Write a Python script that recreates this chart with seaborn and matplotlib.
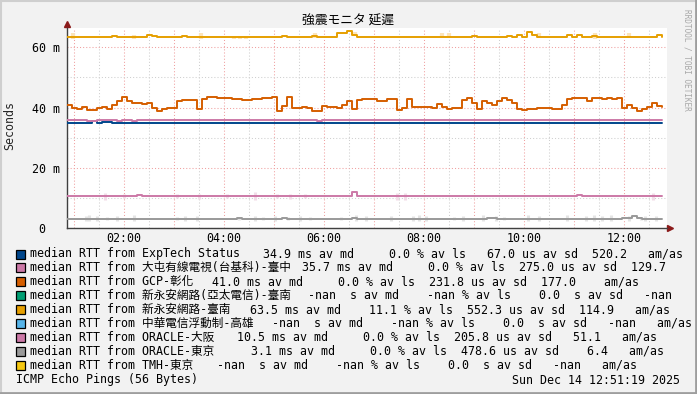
import numpy as np
import pandas as pd
import matplotlib
matplotlib.use("Agg")
import matplotlib.pyplot as plt
from matplotlib.patches import Rectangle
from matplotlib.lines import Line2D
import seaborn as sns

# ---------------- data ----------------
TITLE = "強震モニタ 延遲"
Y_LABEL = "Seconds"
START_H = 0.86          # first sample (hours since midnight)
STEP_H = 0.1            # 6 minute steps
END_H = 12.86
x_tick_pos = [1, 2, 3, 4, 5, 6, 7, 8, 9, 10, 11, 12]
x_tick_labels = ["", "02:00", "", "04:00", "", "06:00", "", "08:00", "", "10:00", "", "12:00"]
y_tick_pos = [0, 20, 40, 60]
y_tick_labels = ["0\u00a0\u00a0", "20 m", "40 m", "60 m"]

exptech = [34.9, 34.9, 34.9, 34.9, 34.9, 35.4, 34.8, 35.2, 35.2, 34.9] + [34.9] * 110

dazhun = ([35.8, 35.8, 35.8, 35.8, 35.5, 35.5, 35.8, 35.8, 35.8, 35.8,
           35.5, 35.8, 35.8, 35.5, 35.8, 35.8, 35.8, 35.8, 35.8, 35.8]
          + [35.8] * 30 + [35.5] + [35.8] * 69)

gcp = [41.0, 39.7, 39.4, 40.1, 39.2, 39.2, 39.7, 40.1, 39.4, 40.9,
       42.3, 43.5, 42.0, 41.5, 41.6, 41.2, 41.4, 39.7, 39.0, 39.6,
       39.7, 39.7, 42.3, 42.6, 42.6, 42.6, 39.4, 42.8, 43.5, 43.5,
       43.1, 43.1, 43.3, 42.8, 42.8, 42.6, 42.6, 42.8, 42.8, 43.0,
       43.0, 43.5, 39.0, 40.6, 43.5, 39.7, 40.0, 40.2, 39.7, 39.0,
       39.0, 40.6, 40.2, 40.2, 39.7, 40.9, 42.0, 39.4, 42.6, 42.8,
       42.9, 42.9, 42.3, 42.3, 42.8, 42.8, 39.2, 39.7, 42.8, 40.1,
       40.1, 40.1, 40.1, 39.7, 41.2, 40.2, 39.4, 39.7, 39.7, 42.6,
       43.1, 41.4, 39.4, 42.0, 41.6, 40.9, 42.3, 43.1, 42.6, 41.6,
       39.4, 39.2, 39.4, 39.4, 39.7, 39.7, 39.7, 39.4, 39.4, 40.9,
       42.8, 43.0, 43.0, 43.1, 42.0, 43.1, 43.1, 42.8, 43.0, 42.8,
       43.0, 39.7, 40.9, 39.7, 39.0, 39.4, 40.2, 41.6, 40.6, 40.1]

tainan = [63.3, 63.3, 63.3, 63.3, 63.3, 63.3, 63.3, 63.3, 63.3, 63.6,
          63.3, 63.3, 63.3, 63.3, 63.3, 63.3, 64.1, 63.8, 63.3, 63.3,
          63.3, 63.3, 63.3, 63.6, 63.3, 63.3, 63.3, 63.3, 63.3, 63.3,
          63.3, 63.3, 63.3, 63.3, 63.3, 63.3, 63.3, 63.3, 63.3, 63.3,
          63.3, 63.3, 63.3, 63.6, 63.3, 63.3, 63.3, 63.3, 63.3, 63.6,
          63.3, 63.3, 63.3, 63.3, 64.6, 64.6, 65.5, 64.0, 63.5, 63.3,
          63.3, 63.3, 63.3, 63.3, 63.3, 63.3, 63.3, 63.3, 63.3, 63.3,
          63.3, 63.3, 63.3, 63.3, 63.3, 63.3, 63.3, 63.3, 63.3, 63.3,
          63.3, 63.8, 63.3, 63.3, 63.3, 63.3, 63.3, 63.3, 63.9, 63.3,
          64.0, 63.3, 65.2, 64.0, 63.3, 63.3, 63.3, 63.3, 63.3, 63.3,
          64.2, 63.3, 64.0, 63.3, 63.3, 63.9, 63.3, 63.3, 63.3, 63.3,
          63.3, 63.3, 63.3, 63.3, 63.3, 63.3, 63.3, 63.3, 64.0, 63.3]

osaka = ([10.6] * 14 + [10.8] + [10.6] * 42 + [11.8] + [10.6] * 44 + [10.8] + [10.6] * 17)

tokyo = ([3.0] * 34 + [3.3] + [3.0] * 8 + [3.3] + [3.0] * 13 + [3.3] + [3.0] * 26
         + [3.3, 3.3] + [3.0] * 25 + [3.3, 3.3, 3.9, 3.3] + [3.0] * 5)

# faint "smoke" (ping spread) marks: hour, low ms, high ms
smoke_tainan_h = [0.98, 2.19, 3.53, 4.20, 4.32, 4.44, 5.81, 6.62, 8.36, 8.50, 10.29, 11.41, 12.09]
smoke_tainan_lo = [62.6, 62.6, 62.6, 62.6, 62.6, 62.6, 63.0, 64.1, 63.3, 63.3, 63.3, 62.6, 63.3]
smoke_tainan_hi = [64.6, 64.1, 64.6, 63.3, 63.3, 63.3, 64.6, 65.2, 64.6, 64.6, 64.6, 64.6, 64.6]

smoke_osaka_h = [1.62, 2.00, 3.06, 3.50, 4.06, 4.62, 5.06, 5.32, 5.62, 7.46, 7.62, 12.58]
smoke_osaka_lo = [9.3, 9.8, 9.8, 9.6, 9.8, 9.3, 9.8, 9.6, 9.8, 9.3, 9.3, 9.3]
smoke_osaka_hi = [11.7, 11.2, 11.4, 11.2, 11.2, 11.9, 11.2, 11.4, 11.2, 11.7, 11.7, 11.7]

smoke_tokyo_h = [1.23, 1.30, 1.46, 1.65, 1.85, 2.20, 3.06, 3.21, 3.45, 4.30, 4.62, 4.77,
                 5.01, 5.28, 5.51, 5.71, 6.33, 6.64, 6.84, 7.34, 7.77, 7.89, 8.04, 8.59,
                 8.78, 9.17, 9.45, 9.60, 10.07, 10.30, 10.85, 11.24, 11.39, 11.55, 11.74,
                 12.10, 12.33, 12.41, 12.64]
smoke_tokyo_lo = [2.3, 2.4, 2.3, 2.5, 2.4, 2.2, 2.5, 2.4, 2.3, 2.5, 2.4, 2.5,
                  2.4, 2.5, 2.4, 2.5, 2.5, 2.2, 2.4, 2.4, 2.3, 2.2, 2.4, 2.5,
                  2.4, 2.3, 2.4, 2.5, 2.3, 2.4, 2.2, 2.3, 2.2, 2.4, 2.3,
                  2.4, 2.5, 2.3, 2.4]
smoke_tokyo_hi = [3.9, 4.2, 3.9, 3.8, 4.0, 4.4, 3.8, 4.0, 4.1, 3.8, 4.0, 3.8,
                  3.9, 3.8, 4.0, 3.8, 3.8, 4.4, 4.0, 4.0, 4.1, 4.3, 3.9, 3.8,
                  4.0, 4.2, 4.0, 3.8, 4.2, 3.9, 4.4, 4.1, 4.3, 3.9, 4.2,
                  4.0, 3.8, 4.1, 4.0]

legend_names = ["ExpTech Status", "大屯有線電視(台基科)-臺中", "GCP-彰化",
                "新永安網路(亞太電信)-臺南", "新永安網路-臺南", "中華電信浮動制-高雄",
                "ORACLE-大阪", "ORACLE-東京", "TMH-東京"]
legend_colors = ["#00468B", "#CC79A7", "#D55E00", "#009E73", "#E69F00",
                 "#56B4E9", "#CC79A7", "#999999", "#F5C710"]
legend_stats = [
    "34.9 ms av md     0.0 % av ls   67.0 us av sd  520.2   am/as",
    "35.7 ms av md     0.0 % av ls  275.0 us av sd  129.7",
    "41.0 ms av md     0.0 % av ls  231.8 us av sd  177.0    am/as",
    "-nan  s av md    -nan % av ls    0.0  s av sd   -nan",
    "63.5 ms av md    11.1 % av ls  552.3 us av sd  114.9   am/as",
    "-nan  s av md    -nan % av ls    0.0  s av sd   -nan   am/as",
    "10.5 ms av md     0.0 % av ls  205.8 us av sd   51.1   am/as",
    " 3.1 ms av md     0.0 % av ls  478.6 us av sd    6.4   am/as",
    "-nan  s av md    -nan % av ls    0.0  s av sd   -nan   am/as",
]
FOOT_LEFT = "ICMP Echo Pings (56 Bytes)"
FOOT_RIGHT = "Sun Dec 14 12:51:19 2025"

plotted = [("ExpTech Status", exptech), ("大屯有線電視(台基科)-臺中", dazhun),
           ("GCP-彰化", gcp), ("新永安網路-臺南", tainan),
           ("ORACLE-大阪", osaka), ("ORACLE-東京", tokyo)]

# ---------------- layout / style ----------------
W, H = 697, 394
BG = "#F2F2F2"
MONO = ["DejaVu Sans Mono", "Noto Sans CJK TC"]
FS = 8.4

sns.set_theme(style="white")
plt.rcParams["font.family"] = MONO


def fx(px):
    return px / W


def fy(py):
    return 1 - py / H


fig = plt.figure(figsize=(W / 100, H / 100), dpi=100, facecolor=BG)
ax = fig.add_axes([fx(67), fy(228), 600 / W, 200 / H])
ax.set_facecolor("white")

# smoke behind the median lines
ax.vlines(smoke_tainan_h, smoke_tainan_lo, smoke_tainan_hi, colors="#FBE4BC",
          linewidth=3, zorder=1.5)
ax.vlines(smoke_osaka_h, smoke_osaka_lo, smoke_osaka_hi, colors="#F2DDE8",
          linewidth=2.2, zorder=1.5)
ax.vlines(smoke_tokyo_h, smoke_tokyo_lo, smoke_tokyo_hi, colors="#E4E4E4",
          linewidth=2.2, zorder=1.5)

rows = []
for name, vals in plotted:
    for i, v in enumerate(vals):
        rows.append({"hour": START_H + STEP_H * i, "ms": v, "target": name})
df = pd.DataFrame(rows)
pal = {n: c for n, c in zip(legend_names, legend_colors)}
sns.lineplot(data=df, x="hour", y="ms", hue="target", palette=pal,
             drawstyle="steps-post", estimator=None, sort=False,
             legend=False, ax=ax, linewidth=1.4, zorder=3)

# ticks / grid
ax.set_xticks(x_tick_pos)
ax.set_xticklabels(x_tick_labels)
ax.set_xticks([p + 0.5 for p in x_tick_pos], minor=True)
ax.set_yticks(y_tick_pos)
ax.set_yticklabels(y_tick_labels)
ax.set_yticks([10, 30, 50], minor=True)
ax.set_xlim(START_H, END_H)
ax.set_ylim(0, 66.4)

ax.grid(True, which="major", color="#F0A0A0", linestyle=(0, (1, 2)), linewidth=0.75)
ax.grid(True, which="minor", color="#CFCFCF", linestyle=(0, (1, 2)), linewidth=0.75)
ax.set_axisbelow(True)

ax.tick_params(axis="both", which="major", direction="inout", length=4, width=0.8,
               color="#404040", labelsize=FS, labelcolor="black")
ax.tick_params(axis="y", which="major", pad=3.3)
ax.tick_params(axis="x", which="major", pad=1.2)
ax.tick_params(axis="both", which="minor", length=0)
for lab in ax.get_xticklabels() + ax.get_yticklabels():
    lab.set_family(MONO)

for s in ["top", "right"]:
    ax.spines[s].set_visible(False)
for s in ["left", "bottom"]:
    ax.spines[s].set_color("#404040")
    ax.spines[s].set_linewidth(1.0)

# axis arrows
ax.plot([0], [1.0225], marker="^", markersize=5, color="#8B1A1A",
        transform=ax.transAxes, clip_on=False)
ax.plot([1.005], [0], marker=">", markersize=5, color="#8B1A1A",
        transform=ax.transAxes, clip_on=False)

ax.set_xlabel("")
ax.set_ylabel(Y_LABEL, fontsize=FS, family=MONO)
ax.yaxis.set_label_coords(-0.085, 0.51)

# title
fig.text(0.5, fy(21), TITLE, ha="center", va="center", fontsize=9.2,
         family=["Noto Sans CJK JP", "DejaVu Sans"], color="black")

# watermark
fig.text(fx(687), fy(60), "RRDTOOL / TOBI OETIKER", rotation=270, fontsize=5.6,
         color="#A8A8A8", ha="center", va="center", family="DejaVu Sans Mono")

# legend
stat_x = [263.3, 301.7, 212.0, 308.3, 250.0, 271.7, 236.7, 243.7, 216.7]
for i, (name, col, stats) in enumerate(zip(legend_names, legend_colors, legend_stats)):
    yc = 254 + 13.9 * i
    fig.add_artist(Rectangle((fx(16), fy(yc + 4.5)), 9 / W, 9 / H,
                             facecolor=col, edgecolor="black", linewidth=0.9,
                             transform=fig.transFigure))
    fig.text(fx(30), fy(yc), "median RTT from " + name, ha="left", va="center",
             fontsize=FS, family=MONO, color="black")
    fig.text(fx(stat_x[i]), fy(yc), stats, ha="left", va="center",
             fontsize=FS, family=MONO, color="black")

fig.text(fx(16), fy(380), FOOT_LEFT, ha="left", va="center", fontsize=FS,
         family=MONO, color="black")
fig.text(fx(680), fy(380), FOOT_RIGHT, ha="right", va="center", fontsize=FS,
         family=MONO, color="black")

# 3D frame
fig.add_artist(Line2D([0, 1], [fy(1), fy(1)], color="#CFCFCF", linewidth=1.5, transform=fig.transFigure))
fig.add_artist(Line2D([fx(1), fx(1)], [0, 1], color="#CFCFCF", linewidth=1.5, transform=fig.transFigure))
fig.add_artist(Line2D([0, 1], [fy(393), fy(393)], color="#9E9E9E", linewidth=2, transform=fig.transFigure))
fig.add_artist(Line2D([fx(696), fx(696)], [0, 1], color="#9E9E9E", linewidth=2, transform=fig.transFigure))

fig.savefig("out.png", dpi=100, facecolor=BG)
